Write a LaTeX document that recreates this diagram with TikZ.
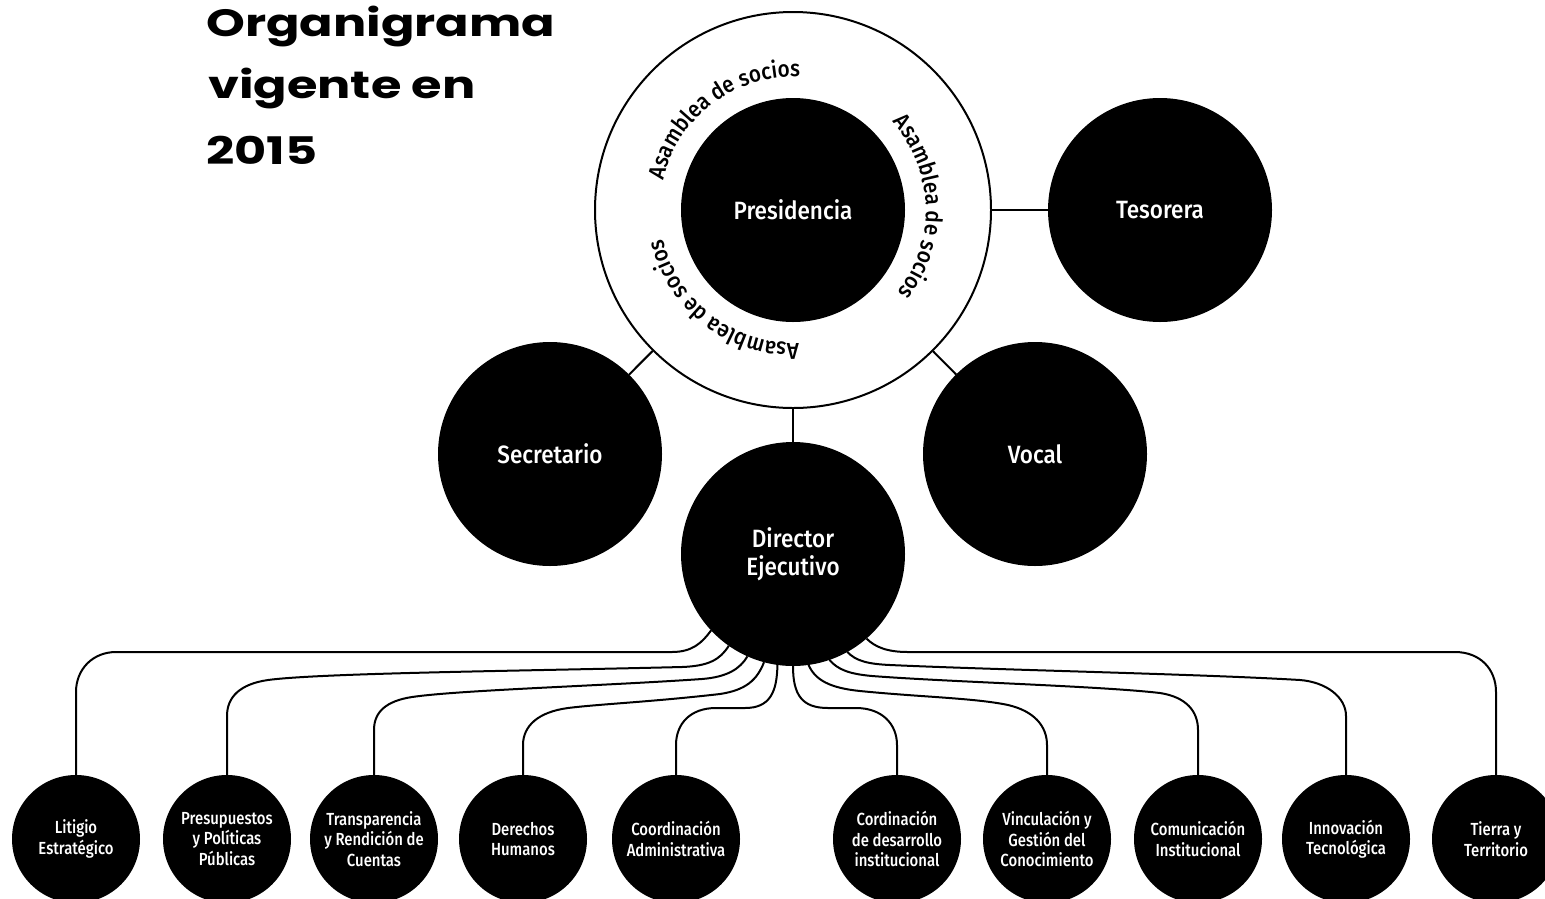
\documentclass[tikz,border=0pt]{standalone}
\usepackage{fontspec}
\setmainfont{Fira Sans}
\newfontfamily\dinfont{Fira Sans Medium}[FakeStretch=0.9]
\newfontfamily\dinsmall{Fira Sans Medium}[FakeStretch=0.85]
\newfontfamily\titlefont{Poppins}[FakeStretch=1.3]
\usetikzlibrary{decorations.text}
\newcommand\circtext{\dinfont\fontsize{23}{27}\selectfont}
\begin{document}
\begin{tikzpicture}[x=1pt,y=-1pt,
  big/.style={circle, fill=black, minimum size=224pt, inner sep=0pt, outer sep=0pt, text=white, font=\dinfont\fontsize{25}{28}\selectfont, align=center},
  small/.style={circle, fill=black, minimum size=128pt, inner sep=0pt, outer sep=0pt, text=white, font=\dinsmall\fontsize{17.5}{20.5}\selectfont, align=center},
  link/.style={line width=2pt, black},
  ttl/.style={anchor=base west, inner sep=0pt, font=\titlefont\bfseries\fontsize{38}{38}\selectfont},
]
\useasboundingbox (0,0) rectangle (1545,898);
\fill[white] (0,0) rectangle (1545,898);

% title
\node[ttl] (t1) at (206,36) {Organigrama};
\node[ttl] (t2) at (208,98) {vigente en};
\node[ttl] (t3) at (206,164) {2015};

% top structure
\node[circle, draw, line width=2pt, minimum size=396pt, inner sep=0pt] (asam) at (793,210) {};
\node[big] (pres) at (793,210) {Presidencia};
\node[big] (tes) at (1160,210) {Tesorera};
\node[big] (sec) at (550,454) {Secretario};
\node[big] (voc) at (1035,454) {Vocal};
\node[big] (dir) at (793,554) {Director\\Ejecutivo};

\draw[link] (asam) -- (tes);
\draw[link] (asam) -- (sec);
\draw[link] (asam) -- (voc);
\draw[link] (asam) -- (dir);

\begin{scope}[shift={(793,210)}, x=1pt, y=1pt]
  \path[decorate, decoration={text along path, text align=center, text={|\circtext|Asamblea de socios}}]
    (187:133) arc[start angle=187, end angle=67, radius=133];
  \path[decorate, decoration={text along path, text align=center, text={|\circtext|Asamblea de socios}}]
    (61.5:133) arc[start angle=61.5, end angle=-58.5, radius=133];
  \path[decorate, decoration={text along path, text align=center, text={|\circtext|Asamblea de socios}}]
    (292.5:133) arc[start angle=292.5, end angle=172.5, radius=133];
\end{scope}

% bottom units
\node[small] (lit) at (76,839) {Litigio\\Estratégico};
\node[small] (pre) at (227,839) {Presupuestos\\y Políticas\\Públicas};
\node[small] (tra) at (374,839) {Transparencia\\y Rendición de\\Cuentas};
\node[small] (der) at (523,839) {Derechos\\Humanos};
\node[small] (coa) at (676,839) {Coordinación\\Administrativa};
\node[small] (cor) at (897,839) {Cordinación\\de desarrollo\\institucional};
\node[small] (vin) at (1047,839) {Vinculación y\\Gestión del\\Conocimiento};
\node[small] (com) at (1198,839) {Comunicación\\Institucional};
\node[small] (inn) at (1346,839) {Innovación\\Tecnológica};
\node[small] (tie) at (1496,839) {Tierra y\\Territorio};

% connectors
\draw[link] (dir.223) .. controls (702,643) and (692,652) .. (672,652) -- (116,652)
  .. controls (93,652) and (76,669) .. (76,692) -- (lit.north);
\draw[link] (dir.235) .. controls (720,660) and (708,666) .. (682,667)
  .. controls (520,671) and (320,673) .. (268,680)
  .. controls (240,684) and (227,697) .. (227,716) -- (pre.north);
\draw[link] (dir.246) .. controls (740,669) and (727,677) .. (702,679)
  .. controls (600,686) and (460,690) .. (412,697)
  .. controls (386,701) and (374,712) .. (374,730) -- (tra.north);
\draw[link] (dir.255) .. controls (757,680) and (746,690) .. (720,694)
  .. controls (650,702) and (600,704) .. (568,708)
  .. controls (538,712) and (523,726) .. (523,745) -- (der.north);
\draw[link] (dir.262) .. controls (777,692) and (770,708) .. (745,708) -- (716,708)
  .. controls (690,708) and (676,724) .. (676,745) -- (coa.north);
\draw[link] (dir.270) .. controls (793,695) and (802,708) .. (828,708) -- (856,708)
  .. controls (882,708) and (897,724) .. (897,745) -- (cor.north);
\draw[link] (dir.278) .. controls (815,680) and (830,688) .. (860,691)
  .. controls (920,697) and (975,698) .. (1008,705)
  .. controls (1034,711) and (1047,726) .. (1047,745) -- (vin.north);
\draw[link] (dir.289) .. controls (838,670) and (850,674) .. (872,676)
  .. controls (950,682) and (1100,686) .. (1160,693)
  .. controls (1186,697) and (1198,711) .. (1198,730) -- (com.north);
\draw[link] (dir.299) .. controls (856,661) and (868,664) .. (890,665)
  .. controls (1000,670) and (1200,674) .. (1300,680)
  .. controls (1326,682) and (1346,697) .. (1346,716) -- (inn.north);
\draw[link] (dir.311) .. controls (875,647) and (887,652) .. (908,652) -- (1455,652)
  .. controls (1480,652) and (1496,669) .. (1496,692) -- (tie.north);
\end{tikzpicture}
\end{document}
